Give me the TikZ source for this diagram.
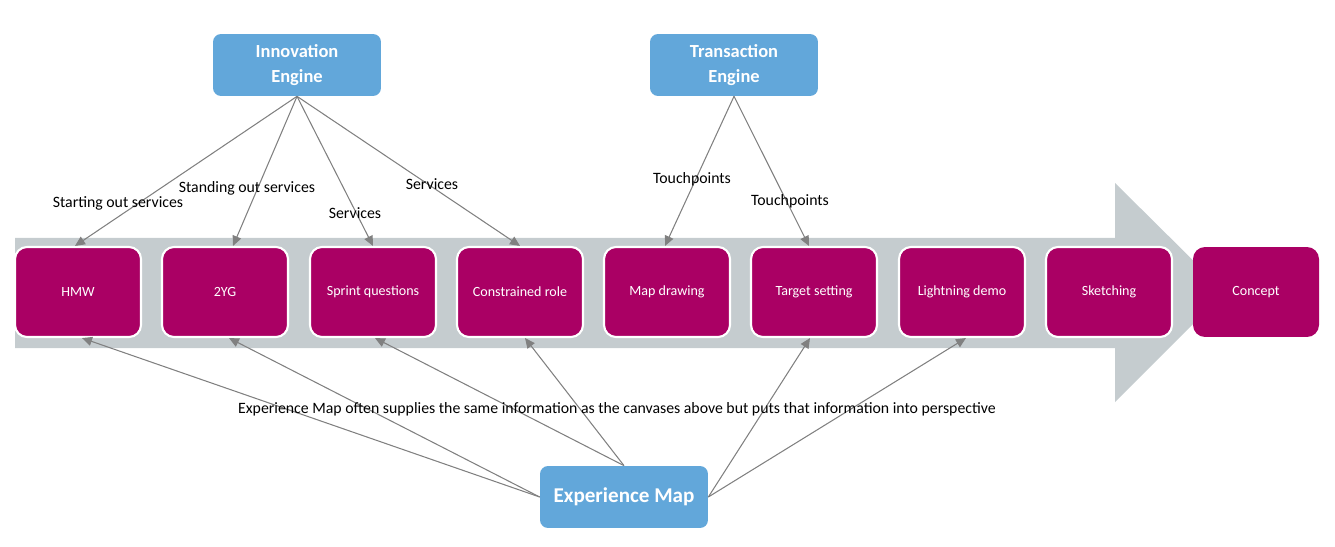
\documentclass[tikz,border=0pt]{standalone}
\usepackage{fontspec}
\setmainfont{Carlito}
\usetikzlibrary{arrows.meta,calc,positioning}
\definecolor{stepmagenta}{RGB}{170,0,100}
\definecolor{bandgray}{RGB}{197,204,207}
\definecolor{engineblue}{RGB}{98,167,218}
\definecolor{linkgray}{RGB}{128,128,128}
\tikzstyle{stepbox} = [draw=white, line width=1.2pt, fill=stepmagenta, rounded corners=0.24cm,
  minimum width=2.52cm, minimum height=1.8cm, text=white, font={\fontsize{8}{9}\selectfont}]
\tikzstyle{engine} = [fill=engineblue, rounded corners=0.16cm, minimum width=3.36cm,
  minimum height=1.24cm, text=white, align=center, font={\bfseries\fontsize{10.5}{14}\selectfont}]
\tikzstyle{link} = [draw=linkgray, line width=0.6pt, -{Triangle[length=2mm,width=1.8mm]}]
\tikzstyle{ptlabel} = [anchor=center, color=black, font={\fontsize{9}{10}\selectfont}]

\begin{document}
\begin{tikzpicture}[x=0.02cm, y=-0.02cm]
  \useasboundingbox (0,0) rectangle (1335,547);
  % the big grey arrow behind the steps
  \fill[bandgray] (15,238) -- (1115,238) -- (1115,183) -- (1225,292)
    -- (1115,402) -- (1115,348) -- (15,348) -- cycle;

  \node[stepbox] (hmw) at (78,292) {HMW};
  \node[stepbox] (yg) at (225,292) {2YG};
  \node[stepbox] (sprint) at (373,292) {Sprint questions};
  \node[stepbox] (role) at (520,292) {Constrained role};
  \node[stepbox] (map) at (667,292) {Map drawing};
  \node[stepbox] (target) at (814,292) {Target setting};
  \node[stepbox] (demo) at (962,292) {Lightning demo};
  \node[stepbox] (sketch) at (1109,292) {Sketching};
  \node[stepbox, draw=none] (concept) at (1256,292) {Concept};

  \node[engine] (innov) at (297,65) {Innovation\\Engine};
  \node[engine] (trans) at (734,65) {Transaction\\Engine};
  \node[engine, font={\bfseries\fontsize{12}{14}\selectfont}] (exp) at (624,497) {Experience Map};

  \coordinate (ie) at (innov.south);
  \coordinate (te) at (trans.south);
  \draw[link] (ie) -- ($(hmw.north)+(-3,0)$);
  \draw[link] (ie) -- ($(yg.north)+(8,0)$);
  \draw[link] (ie) -- (sprint.north);
  \draw[link] (ie) -- (role.north);
  \draw[link] (te) -- ($(map.north)+(-2,0)$);
  \draw[link] (te) -- ($(target.north)+(-5,0)$);

  \draw[link] (exp.west) -- ($(hmw.south)+(4,0)$);
  \draw[link] (exp.west) -- ($(yg.south)+(4,0)$);
  \draw[link] (exp.north) -- ($(sprint.south)+(2,0)$);
  \draw[link] (exp.north) -- ($(role.south)+(5,0)$);
  \draw[link] (exp.east) -- ($(target.south)+(-4,0)$);
  \draw[link] (exp.east) -- ($(demo.south)+(4,0)$);

  \node[ptlabel] (l1) at (118,203) {Starting out services};
  \node[ptlabel] (l2) at (247,188) {Standing out services};
  \node[ptlabel] (l3) at (355,213) {Services};
  \node[ptlabel] (l4) at (432,184) {Services};
  \node[ptlabel] (l5) at (692,179) {Touchpoints};
  \node[ptlabel] (l6) at (790,201) {Touchpoints};
  \node[ptlabel] (note) at (617,409) {Experience Map often supplies the same information as the canvases above but puts that information into perspective};
\end{tikzpicture}
\end{document}
